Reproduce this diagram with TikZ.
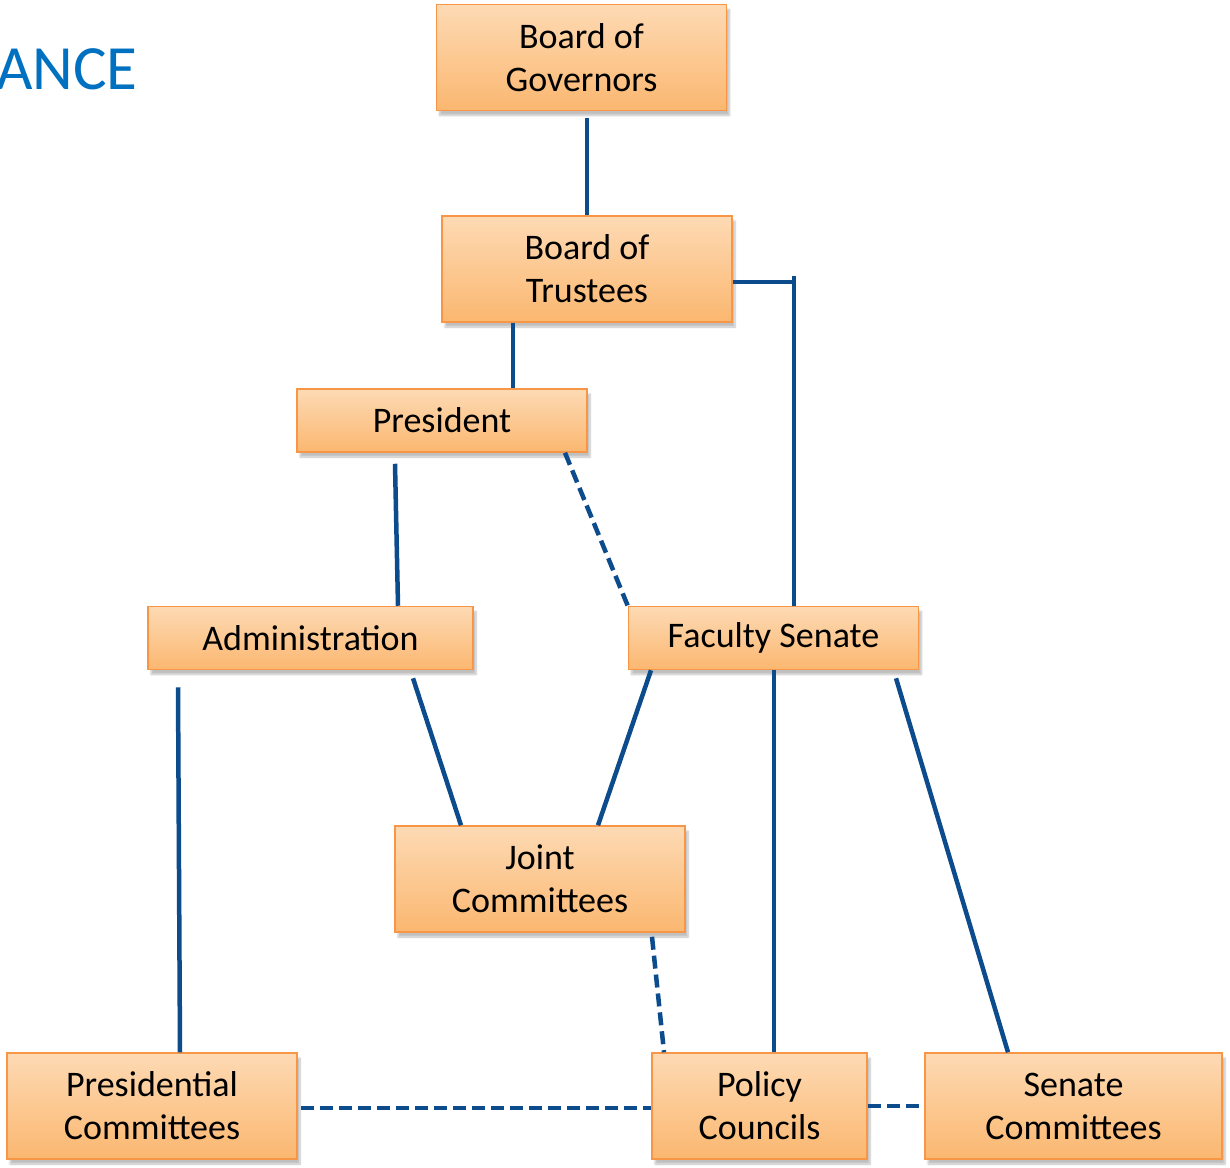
\documentclass[tikz,border=0pt]{standalone}
\usepackage{fontspec}
\setmainfont{Carlito}
\usetikzlibrary{shadows.blur}
\definecolor{boxtop}{RGB}{253,218,180}
\definecolor{boxbottom}{RGB}{251,183,112}
\definecolor{boxline}{RGB}{247,150,70}
\definecolor{linkblue}{RGB}{12,75,140}
\definecolor{titleblue}{RGB}{0,112,192}
\tikzset{
  unit/.style={rectangle, draw=boxline, line width=1.5pt, top color=boxtop, bottom color=boxbottom,
    align=center, inner sep=0pt, minimum height=106pt, minimum width=290pt,
    font=\fontsize{36}{43}\selectfont,
    blur shadow={shadow xshift=3pt, shadow yshift=-5pt, shadow blur steps=6, shadow opacity=25}},
  flat/.style={unit, minimum height=63pt},
  link/.style={draw=linkblue, line width=4.5pt},
  loose/.style={link, dash pattern=on 13pt off 6pt}
}
\begin{document}
\begin{tikzpicture}[x=1pt, y=-1pt]
    \useasboundingbox (0,0) rectangle (1230,1167);

    % Titel (abgeschnitten)
    \node[anchor=base west, inner sep=0pt, text=titleblue, font=\fontsize{63}{76}\selectfont] (title) at (-4,89) {ANCE};

    % Gremien
    \node[unit] (gov) at (581.5,57.5) {Board of\\Governors};
    \node[unit] (tru) at (587,269) {Board of\\Trustees};
    \node[flat] (pres) at (442,420.5) {President};
    \node[flat, minimum width=325pt] (adm) at (310.5,638) {Administration};
    \node[flat] (fs) at (773.5,638) {Faculty Senate};
    \node[unit] (jc) at (540,879) {Joint\\Committees};
    \node[unit] (prc) at (152,1106) {Presidential\\Committees};
    \node[unit, minimum width=215pt] (pc) at (759.5,1106) {Policy\\Councils};
    \node[unit, minimum width=297pt] (sc) at (1073.5,1106) {Senate\\Committees};

    % Linien nach oben
    \draw[link] (tru.north) -- ([yshift=-7pt]tru.north |- gov.south);
    \coordinate (fsup) at (794,276);
    \draw[link] ([yshift=-13pt]tru.east) -- ([yshift=-13pt]tru.east -| fsup);
    \draw[link] (fsup) -- (fsup |- fs.north);
    \draw[link] ([xshift=-74pt]tru.south) -- ([xshift=71pt]pres.north);
    \draw[link] ([xshift=-47pt,yshift=-11pt]pres.south) -- ([xshift=87.5pt]adm.north);
    \draw[loose] ([xshift=123pt]pres.south) -- (fs.north west);

    % Linien nach unten
    \draw[link] ([xshift=-132.5pt,yshift=-17pt]adm.south) -- ([xshift=28pt]prc.north);
    \draw[link] ([xshift=102.5pt,yshift=-8pt]adm.south) -- ([xshift=-79pt]jc.north);
    \draw[link] ([xshift=-122.5pt]fs.south) -- ([xshift=58pt]jc.north);
    \draw[link] ([xshift=0.5pt]fs.south) -- ([xshift=0.5pt]fs.south |- pc.north);
    \draw[link] ([xshift=122.5pt,yshift=-8pt]fs.south) -- ([xshift=-65.5pt]sc.north);
    \draw[loose] ([xshift=112pt,yshift=-4pt]jc.south) -- ([xshift=-95.5pt]pc.north);

    % Querlinien
    \draw[loose] ([xshift=3pt,yshift=-2pt]prc.east) -- ([yshift=-2pt]pc.west);
    \draw[loose] (pc.east) -- (sc.west);
\end{tikzpicture}
\end{document}
